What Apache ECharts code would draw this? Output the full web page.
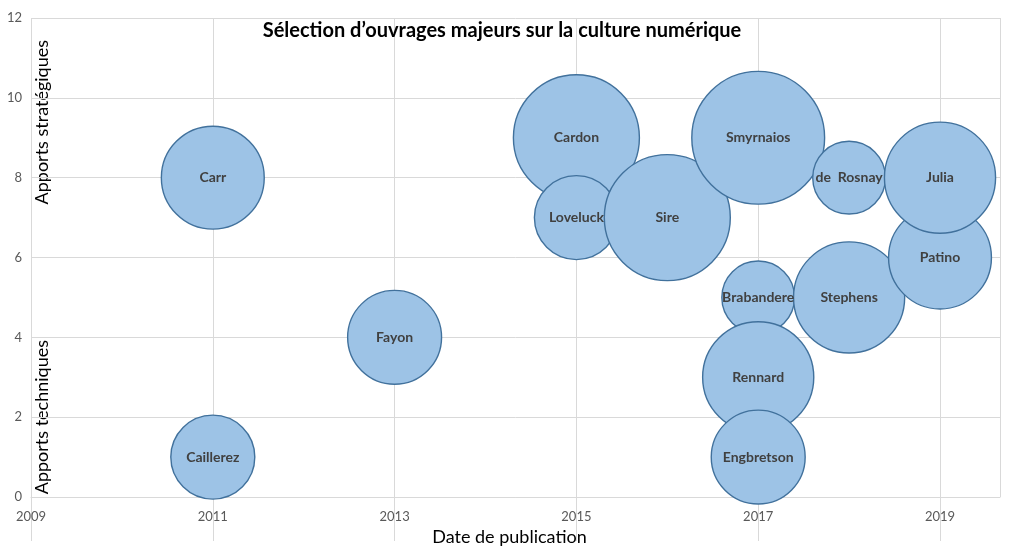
<!DOCTYPE html>
<html>
<head>
<meta charset="utf-8">
<script src="https://cdn.jsdelivr.net/npm/echarts@6/dist/echarts.min.js"></script>
<style>
html,body{margin:0;padding:0;background:#fff;}
#chart{width:1024px;height:551px;}
</style>
</head>
<body>
<div id="chart"></div>
<script>
var authors = ['Carr','Caillerez','Fayon','Cardon','Loveluck','Sire','Smyrnaios','de  Rosnay','Brabandere','Rennard','Engbretson','Stephens','Patino','Julia'];
var years   = [2011, 2011, 2013, 2015, 2015, 2016, 2017, 2018, 2017, 2017, 2017, 2018, 2019, 2019];
var scores  = [8, 1, 4, 9, 7, 7, 9, 8, 5, 3, 1, 5, 6, 8];
var weights = [6, 4, 5, 9, 4, 9, 10, 3, 3, 7, 5, 7, 6, 7];
var yTicks = [0, 2, 4, 6, 8, 10, 12];

var data = authors.map(function(a, i){ return {name: a, value: [years[i], scores[i], weights[i]]}; });
var FONT = 'Lato, "Open Sans", sans-serif';

var chart = echarts.init(document.getElementById('chart'), null, {renderer:'canvas'});
chart.setOption({
  animation: false,
  backgroundColor: '#ffffff',
  title: {
    text: "Sélection d’ouvrages majeurs sur la culture numérique",
    left: 497, top: 16, textAlign: 'center',
    textStyle: {fontFamily: FONT, fontSize: 20, fontWeight: 'bold', color: '#000000'}
  },
  grid: {left: 31, right: 24, top: 18, bottom: 54, containLabel: false, outerBoundsMode: 'none'},
  xAxis: {
    type: 'value', min: 2009, max: 2019.66, interval: 2,
    axisLine: {show: true, lineStyle: {color: '#d9d9d9', width: 1}},
    axisTick: {show: true, length: 44, lineStyle: {color: '#d9d9d9', width: 1}},
    splitLine: {show: true, lineStyle: {color: '#d9d9d9', width: 1}},
    axisLabel: {margin: 13, color: '#595959', fontFamily: FONT, fontSize: 13, showMaxLabel: false,
      formatter: function(v){ return String(v); }},
    name: 'Date de publication', nameLocation: 'middle', nameGap: 30,
    nameTextStyle: {fontFamily: FONT, fontSize: 18, color: '#000000', padding: [0, 12, 0, 0]}
  },
  yAxis: {
    type: 'value', min: yTicks[0], max: yTicks[yTicks.length-1], interval: 2,
    axisLine: {show: false}, axisTick: {show: false},
    splitLine: {show: true, lineStyle: {color: '#d9d9d9', width: 1}},
    axisLabel: {margin: 9, color: '#595959', fontFamily: FONT, fontSize: 13}
  },
  graphic: [
    {type: 'text', left: 33, top: 40, rotation: Math.PI/2,
      style: {text: 'Apports stratégiques', fill: '#000', font: '18px ' + FONT}},
    {type: 'text', left: 33, top: 340, rotation: Math.PI/2,
      style: {text: 'Apports techniques', fill: '#000', font: '18px ' + FONT}}
  ],
  series: [{
    type: 'scatter',
    data: data,
    symbolSize: function(v){ return 42 * Math.sqrt(v[2]); },
    itemStyle: {color: '#9dc3e6', borderColor: '#41719c', borderWidth: 1.4, opacity: 1},
    label: {show: true, position: 'inside', formatter: '{b}', color: '#404040',
      fontFamily: FONT, fontSize: 14, fontWeight: 'bold'},
    emphasis: {disabled: true}
  }]
});
</script>
</body>
</html>
